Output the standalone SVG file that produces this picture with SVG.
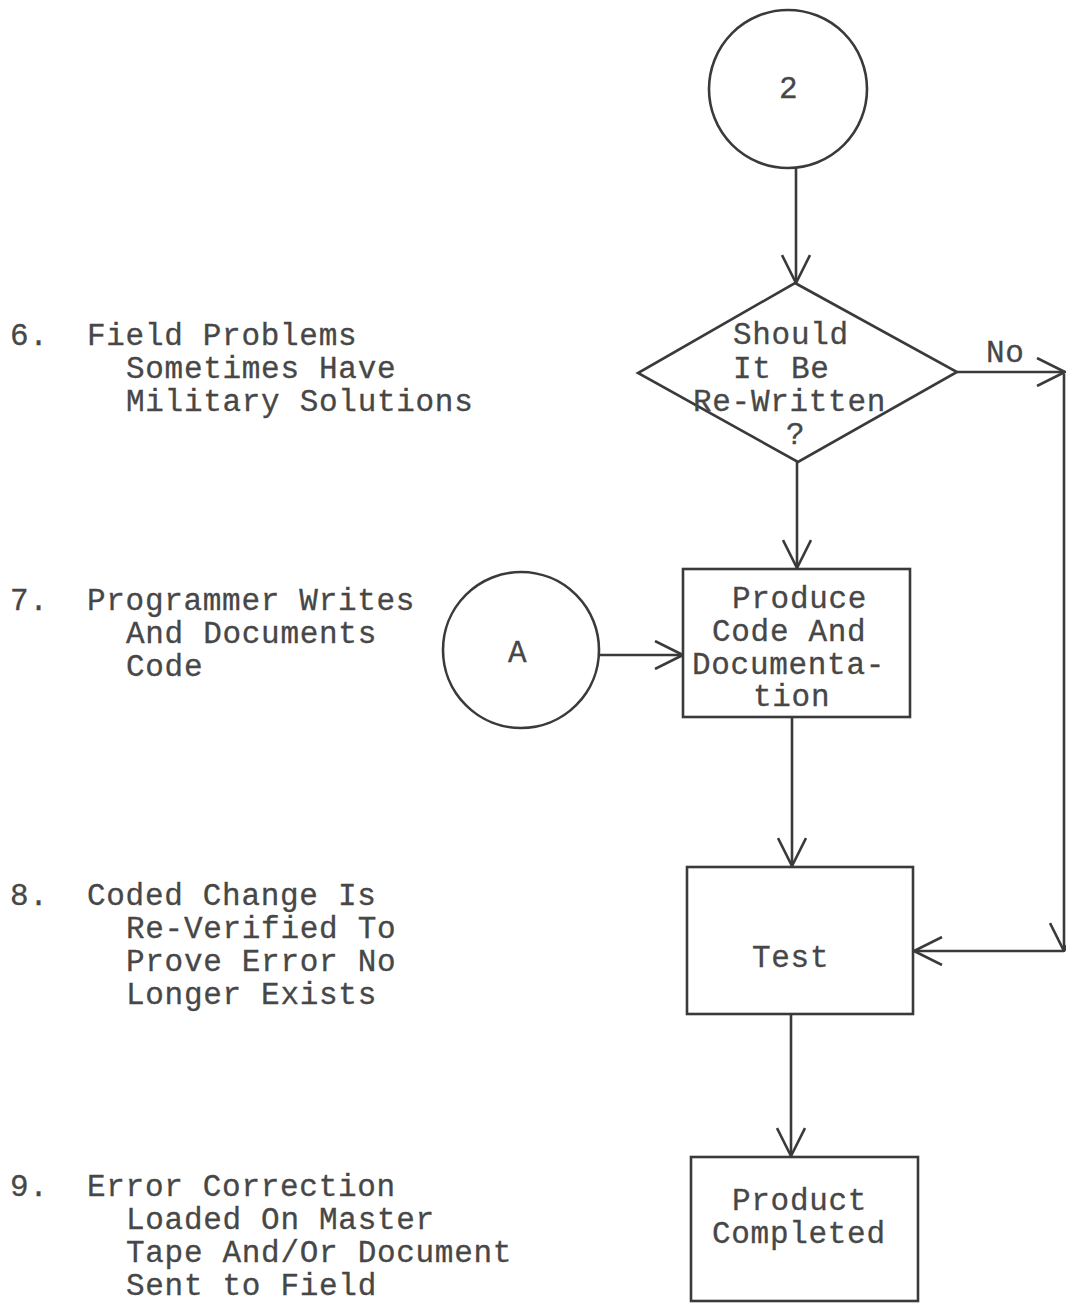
<svg xmlns="http://www.w3.org/2000/svg" width="1066" height="1304" viewBox="0 0 1066 1304">
<style>
.t{font-family:"Liberation Mono","Courier New",monospace;font-size:31px;letter-spacing:0.7px;fill:#474747;stroke:#474747;stroke-width:0.3}
.s{fill:none;stroke:#3a3a3a;stroke-width:2.6}
.c{fill:none;stroke:#3a3a3a;stroke-width:2.6}
</style>
<defs>
<marker id="ah" viewBox="0 0 30 30" refX="29" refY="15" markerWidth="30" markerHeight="30" markerUnits="userSpaceOnUse" orient="auto">
<path d="M1,1 L29,15 L1,29" fill="none" stroke="#3a3a3a" stroke-width="2.6"/>
</marker>
</defs>
<rect width="1066" height="1304" fill="#fff"/>
<g id="notes">
<text class="t" x="10" y="345">6.</text>
<text class="t" x="87" y="345">Field Problems</text>
<text class="t" x="126" y="378">Sometimes Have</text>
<text class="t" x="126" y="411">Military Solutions</text>
<text class="t" x="10" y="610">7.</text>
<text class="t" x="87" y="610">Programmer Writes</text>
<text class="t" x="126" y="643">And Documents</text>
<text class="t" x="126" y="676">Code</text>
<text class="t" x="10" y="905">8.</text>
<text class="t" x="87" y="905">Coded Change Is</text>
<text class="t" x="126" y="938">Re-Verified To</text>
<text class="t" x="126" y="971">Prove Error No</text>
<text class="t" x="126" y="1004">Longer Exists</text>
<text class="t" x="10" y="1196">9.</text>
<text class="t" x="87" y="1196">Error Correction</text>
<text class="t" x="126" y="1229">Loaded On Master</text>
<text class="t" x="126" y="1262">Tape And/Or Document</text>
<text class="t" x="126" y="1295">Sent to Field</text>
</g>
<g id="node-2">
<circle class="s" cx="788" cy="89" r="79"/>
<text class="t" x="779" y="98">2</text>
</g>
<g id="node-decision">
<polygon class="s" points="795,283 957,372 798,462 638,373"/>
<text class="t" x="733" y="344">Should</text>
<text class="t" x="733" y="378">It Be</text>
<text class="t" x="693" y="411">Re-Written</text>
<text class="t" x="786" y="444">?</text>
</g>
<g id="node-A">
<circle class="s" cx="521" cy="650" r="78"/>
<text class="t" x="508" y="662">A</text>
</g>
<g id="node-produce">
<rect class="s" x="683" y="569" width="227" height="148"/>
<text class="t" x="732" y="608">Produce</text>
<text class="t" x="712" y="641">Code And</text>
<text class="t" x="692" y="674">Documenta-</text>
<text class="t" x="753" y="706">tion</text>
</g>
<g id="node-test">
<rect class="s" x="687" y="867" width="226" height="147"/>
<text class="t" x="752" y="967">Test</text>
</g>
<g id="node-product">
<rect class="s" x="691" y="1157" width="227" height="144"/>
<text class="t" x="732" y="1210">Product</text>
<text class="t" x="712" y="1243">Completed</text>
</g>
<g id="connectors">
<line class="c" x1="796" y1="168" x2="796" y2="283" marker-end="url(#ah)"/>
<line class="c" x1="797" y1="462" x2="797" y2="568" marker-end="url(#ah)"/>
<line class="c" x1="600" y1="655" x2="683" y2="655" marker-end="url(#ah)"/>
<line class="c" x1="792" y1="717" x2="792" y2="866" marker-end="url(#ah)"/>
<line class="c" x1="791" y1="1014" x2="791" y2="1156" marker-end="url(#ah)"/>
<line class="c" x1="957" y1="372" x2="1065" y2="372" marker-end="url(#ah)"/>
<text class="t" x="986" y="362">No</text>
<line class="c" x1="1064" y1="374" x2="1064" y2="951" marker-end="url(#ah)"/>
<line class="c" x1="1064" y1="951" x2="914" y2="951" marker-end="url(#ah)"/>
</g>
</svg>
